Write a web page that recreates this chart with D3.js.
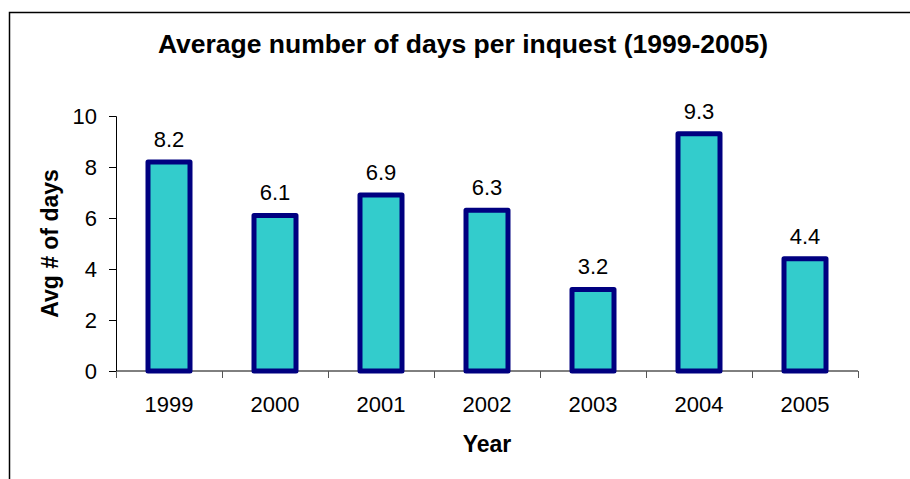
<!DOCTYPE html>
<html>
<head>
<meta charset="utf-8">
<script src="https://cdn.jsdelivr.net/npm/d3@7"></script>
<style>
  body { margin: 0; background: #fff; }
  svg text { font-family: Arial, "Liberation Sans", sans-serif; fill: #000; }
</style>
</head>
<body>
<div id="chart"></div>
<script>
// data
const years = ["1999", "2000", "2001", "2002", "2003", "2004", "2005"];
const avgDays = [8.2, 6.1, 6.9, 6.3, 3.2, 9.3, 4.4];
const yTicks = [0, 2, 4, 6, 8, 10];

const W = 910, H = 479;
const margin = {top: 116, right: 52, bottom: 108, left: 116};
const width = W - margin.left - margin.right,
      height = H - margin.top - margin.bottom;

const svg = d3.select("#chart").append("svg")
    .attr("width", W)
    .attr("height", H);

// outer frame of the chart
svg.append("rect")
    .attr("x", 9.5).attr("y", 12.5)
    .attr("width", W + 10).attr("height", H + 10)
    .attr("fill", "none").attr("stroke", "#000").attr("stroke-width", 1.5);

svg.append("text")
    .attr("x", 463).attr("y", 53)
    .attr("text-anchor", "middle")
    .style("font-size", "26.5px").style("font-weight", "bold")
    .text("Average number of days per inquest (1999-2005)");

const g = svg.append("g")
    .attr("transform", "translate(" + margin.left + "," + margin.top + ")");

const x = d3.scaleBand().domain(years).range([0, width]);
const y = d3.scaleLinear().domain([0, 10]).range([height, 0]);

// y axis
const gy = g.append("g").call(d3.axisLeft(y).tickValues(yTicks).tickSize(7).tickPadding(12));
gy.select(".domain").attr("stroke", "#000");
gy.selectAll(".tick line").attr("stroke", "#000");
gy.selectAll("text").style("font-size", "22px");

// x axis, ticks sit between the categories
const gx = g.append("g").attr("transform", "translate(0," + height + ")");
gx.append("line").attr("x1", 0).attr("x2", width).attr("stroke", "#000");
gx.selectAll(".xt")
    .data(years.concat(["end"]))
    .enter().append("line")
    .attr("x1", (d, i) => i * x.step() + 0.5)
    .attr("x2", (d, i) => i * x.step() + 0.5)
    .attr("y1", 0).attr("y2", 7)
    .attr("stroke", "#555");
gx.selectAll(".xl")
    .data(years)
    .enter().append("text")
    .attr("x", d => x(d) + x.bandwidth() / 2)
    .attr("y", 41)
    .attr("text-anchor", "middle")
    .style("font-size", "22px")
    .text(d => d);

// bars
const barW = 42;
g.selectAll(".bar")
    .data(avgDays)
    .enter().append("rect")
    .attr("x", (d, i) => x(years[i]) + x.bandwidth() / 2 - barW / 2)
    .attr("y", d => y(d))
    .attr("width", barW)
    .attr("height", d => y(0) - y(d))
    .attr("fill", "#33CCCC")
    .attr("stroke", "#000080")
    .attr("stroke-width", 5)
    .attr("stroke-linejoin", "round");

// value labels
g.selectAll(".val")
    .data(avgDays)
    .enter().append("text")
    .attr("x", (d, i) => x(years[i]) + x.bandwidth() / 2)
    .attr("y", d => y(d) - 15)
    .attr("text-anchor", "middle")
    .style("font-size", "22px")
    .text(d => d.toFixed(1));

// axis titles
svg.append("text")
    .attr("transform", "translate(58," + (margin.top + height / 2) + ") rotate(-90)")
    .attr("text-anchor", "middle")
    .style("font-size", "23px").style("font-weight", "bold")
    .text("Avg # of days");

svg.append("text")
    .attr("x", margin.left + width / 2).attr("y", 452)
    .attr("text-anchor", "middle")
    .style("font-size", "23px").style("font-weight", "bold")
    .text("Year");
</script>
</body>
</html>
